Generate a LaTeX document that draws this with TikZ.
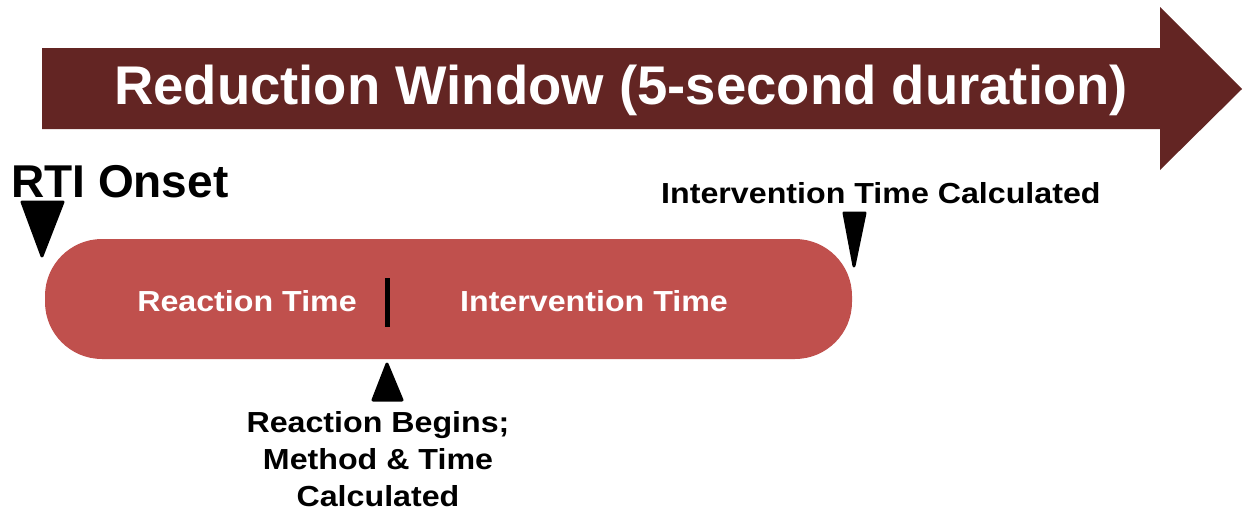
\documentclass[tikz,border=0pt]{standalone}
\usepackage{fontspec}
\setmainfont{Liberation Sans}
\newfontfamily\widefont[FakeStretch=1.11]{Liberation Sans}
\definecolor{maroon}{HTML}{632523}
\definecolor{pill}{HTML}{C0504D}
\begin{document}
\begin{tikzpicture}[x=1pt,y=-1pt,
  lbl/.style={font=\widefont\bfseries\fontsize{29}{37}\selectfont, inner sep=0pt},
  marker/.style={fill=black, draw=black, line width=3pt, line join=round}]
\useasboundingbox (0,0) rectangle (1243,514);
% big arrow
\fill[maroon] (42,48) -- (1160,48) -- (1160,7) -- (1242,89) -- (1160,170) -- (1160,129) -- (42,129) -- cycle;
\node[inner sep=0pt, text=white, font=\bfseries\fontsize{54.5}{60}\selectfont] (title) at (621,90) {Reduction Window (5-second duration)};
% pill
\fill[pill, rounded corners=57pt] (45,239) rectangle (852,359);
\node[lbl, text=white] (rt) at (247,301) {Reaction Time};
\node[lbl, text=white] (it) at (594,301) {Intervention Time};
\draw[line width=5pt] (387,278) -- (387,327);
% RTI onset
\node[inner sep=0pt, font=\bfseries\fontsize{46}{50}\selectfont, anchor=west] (rti) at (11,182) {RTI Onset};
\draw[marker] (22,202) -- (63,202) -- (42,256) -- cycle;
% Intervention time calculated
\node[lbl, anchor=west] (itc) at (661,193) {Intervention Time Calculated};
\draw[marker] (844,213) -- (865,213) -- (854,266) -- cycle;
% reaction begins
\draw[marker] (387,364) -- (402,400) -- (373,400) -- cycle;
\node[lbl, align=center] (rb) at (378,459) {Reaction Begins;\\Method \& Time\\Calculated};
\end{tikzpicture}
\end{document}
